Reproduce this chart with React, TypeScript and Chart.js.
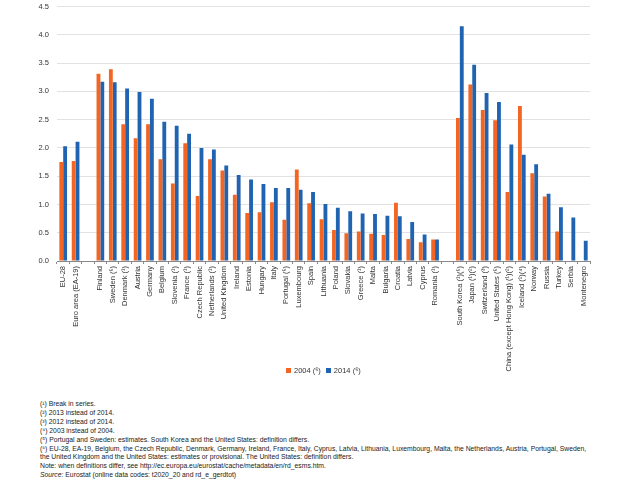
import React, { useEffect, useRef } from "react";
import { Chart, registerables } from "chart.js";
Chart.register(...registerables);

const categories = [
  "EU-28", "Euro area (EA-19)", "",
  "Finland", "Sweden (⁵)", "Denmark (¹)", "Austria", "Germany", "Belgium", "Slovenia (¹)", "France (¹)",
  "Czech Republic", "Netherlands (¹)", "United Kingdom", "Ireland", "Estonia", "Hungary", "Italy",
  "Portugal (⁵)", "Luxembourg", "Spain", "Lithuania", "Poland", "Slovakia", "Greece (¹)", "Malta",
  "Bulgaria", "Croatia", "Latvia", "Cyprus", "Romania (¹)", " ",
  "South Korea (¹)(⁵)", "Japan (¹)(²)", "Switzerland (³)", "United States (⁵)",
  "China (except Hong Kong) (¹)(²)", "Iceland (¹)(⁴)", "Norway", "Russia", "Turkey", "Serbia", "Montenegro",
];

const values2004 = [
  1.75, 1.77, null,
  3.31, 3.39, 2.42, 2.17, 2.42, 1.80, 1.37, 2.08,
  1.15, 1.80, 1.60, 1.17, 0.85, 0.86, 1.04,
  0.73, 1.62, 1.02, 0.74, 0.55, 0.49, 0.52, 0.48,
  0.46, 1.03, 0.39, 0.33, 0.38, null,
  2.53, 3.12, 2.67, 2.49,
  1.22, 2.74, 1.55, 1.14, 0.52, null, null,
];

const values2014 = [
  2.03, 2.11, null,
  3.17, 3.16, 3.05, 2.99, 2.87, 2.46, 2.39, 2.25,
  2.00, 1.97, 1.69, 1.52, 1.44, 1.36, 1.29,
  1.29, 1.26, 1.22, 1.01, 0.94, 0.88, 0.84, 0.83,
  0.80, 0.79, 0.69, 0.47, 0.38, null,
  4.15, 3.47, 2.97, 2.81,
  2.06, 1.88, 1.71, 1.19, 0.95, 0.77, 0.36,
];

const seriesLabels = ["2004 (⁶)", "2014 (⁶)"];

const footnotes = [
  "(¹) Break in series.",
  "(²) 2013 instead of 2014.",
  "(³) 2012 instead of 2014.",
  "(⁴) 2003 instead of 2004.",
  "(⁵) Portugal and Sweden: estimates. South Korea and the United States: definition differs.",
  "(⁶) EU-28, EA-19, Belgium, the Czech Republic, Denmark, Germany, Ireland, France, Italy, Cyprus, Latvia, Lithuania, Luxembourg, Malta, the Netherlands, Austria, Portugal, Sweden,",
  "the United Kingdom and the United States: estimates or provisional. The United States: definition differs.",
  "Note: when definitions differ, see http://ec.europa.eu/eurostat/cache/metadata/en/rd_esms.htm.",
];
const sourceText = "Eurostat (online data codes: t2020_20 and rd_e_gerdtot)";

const ORANGE = "#F26522";
const BLUE = "#1F63B1";
const COLORS = [ORANGE, BLUE];
const FONT = "'Liberation Sans', Arial, sans-serif";

export default function App() {
  const ref = useRef<HTMLCanvasElement | null>(null);

  useEffect(() => {
    document.body.style.margin = "0";
    const ctx = ref.current;
    if (!ctx) return;
    const chart = new Chart(ctx, {
      type: "bar",
      data: {
        labels: categories,
        datasets: [
          { label: seriesLabels[0], data: values2004, backgroundColor: ORANGE, borderWidth: 0 },
          { label: seriesLabels[1], data: values2014, backgroundColor: BLUE, borderWidth: 0 },
        ],
      },
      options: {
        responsive: false,
        animation: false,
        datasets: { bar: { categoryPercentage: 0.62, barPercentage: 1.0 } },
        layout: { padding: { left: 0, right: 0, top: 3, bottom: 0 } },
        plugins: {
          legend: { display: false },
          tooltip: { enabled: false },
        },
        scales: {
          x: {
            grid: { offset: true, drawOnChartArea: false, tickLength: 3, color: "#888" },
            border: { color: "#888" },
            ticks: {
              autoSkip: false,
              minRotation: 90,
              maxRotation: 90,
              padding: 2,
              color: "#333",
              font: { family: FONT, size: 7.5 },
            },
            afterFit: (s: any) => { s.height = 111; },
          },
          y: {
            min: 0,
            max: 4.5,
            grid: { color: "#e2e2e2", drawTicks: false },
            border: { display: false },
            ticks: {
              stepSize: 0.5,
              padding: 8,
              color: "#333",
              font: { family: FONT, size: 7.5 },
              callback: (v: any) => Number(v).toFixed(1),
            },
            afterFit: (s: any) => { s.width = 57; },
          },
          yr: {
            type: "linear",
            position: "right",
            display: true,
            grid: { display: false, drawTicks: false },
            border: { display: false },
            ticks: { display: false },
            afterFit: (s: any) => { s.width = 50; },
          },
        },
      },
    });
    return () => chart.destroy();
  }, []);

  return (
    <div style={{ position: "relative", width: 640, height: 480, background: "#fff", fontFamily: FONT, overflow: "hidden" }}>
      <canvas ref={ref} width={640} height={378} style={{ position: "absolute", left: 0, top: -6 }} />
      <div
        style={{
          position: "absolute",
          left: 286,
          top: 365,
          height: 10,
          display: "flex",
          alignItems: "center",
          fontSize: 7.5,
          color: "#333",
          whiteSpace: "nowrap",
        }}
      >
        {seriesLabels.map((lab, i) => (
          <div key={i} style={{ display: "flex", alignItems: "center", marginRight: 5 }}>
            <span style={{ display: "inline-block", width: 5, height: 5, background: COLORS[i], marginRight: 3 }} />
            <span>{lab}</span>
          </div>
        ))}
      </div>
      <div
        style={{
          position: "absolute",
          left: 40,
          top: 400,
          fontSize: 6.8,
          lineHeight: "8.9px",
          color: "#1a1a1a",
          whiteSpace: "pre",
        }}
      >
        {footnotes.map((t, i) => (
          <div key={i}>{t}</div>
        ))}
        <div>
          <i>Source:</i> {sourceText}
        </div>
      </div>
    </div>
  );
}
